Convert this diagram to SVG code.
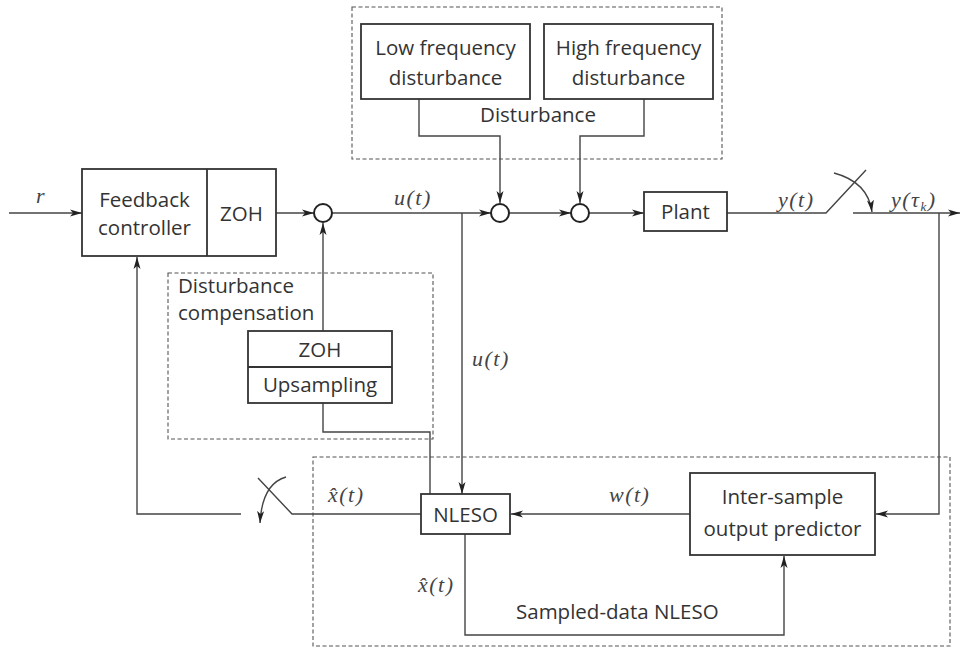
<svg xmlns="http://www.w3.org/2000/svg" width="961" height="648" viewBox="0 0 961 648">
<style>
.box{fill:#fff;stroke:#333;stroke-width:1.8}
.sum{fill:#fff;stroke:#222;stroke-width:2}
.dash{fill:none;stroke:#555;stroke-width:1.1;stroke-dasharray:4 2.5}
.ln{fill:none;stroke:#444;stroke-width:1.4}
.t{font-family:"Open Sans","Liberation Sans",sans-serif;font-size:20.5px;fill:#333}
.c{text-anchor:middle}
.m{font-family:"Liberation Serif","DejaVu Serif",serif;font-style:italic;font-size:22px;fill:#444;letter-spacing:1.5px}
</style>
<defs>
<marker id="ah" markerWidth="14" markerHeight="10" refX="12" refY="5" orient="auto" markerUnits="userSpaceOnUse">
<path d="M0,1.5 L12,5 L0,8.5 L3,5 Z" fill="#222"/>
</marker>
</defs>
<rect width="961" height="648" fill="#fff"/>

<g id="groups">
<rect class="dash" x="352" y="7" width="370" height="152"/>
<rect class="dash" x="168" y="273" width="265" height="166"/>
<rect class="dash" x="313" y="457" width="637" height="189"/>
</g>

<g id="connectors">
<line class="ln" x1="9" y1="213" x2="82" y2="213" marker-end="url(#ah)"/>
<line class="ln" x1="276" y1="213" x2="314" y2="213" marker-end="url(#ah)"/>
<line class="ln" x1="332" y1="213" x2="491" y2="213" marker-end="url(#ah)"/>
<line class="ln" x1="462" y1="213" x2="462" y2="494" marker-end="url(#ah)"/>
<line class="ln" x1="509" y1="213" x2="571" y2="213" marker-end="url(#ah)"/>
<line class="ln" x1="589" y1="213" x2="644" y2="213" marker-end="url(#ah)"/>
<polyline class="ln" points="727,213 826,213 866,170"/>
<path class="ln" d="M834,173 Q868,182 872,212" marker-end="url(#ah)"/>
<line class="ln" x1="853" y1="213" x2="960" y2="213" marker-end="url(#ah)"/>
<polyline class="ln" points="939,213 939,514 876,514" marker-end="url(#ah)"/>
<line class="ln" x1="690" y1="514" x2="511" y2="514" marker-end="url(#ah)"/>
<polyline class="ln" points="465,534 465,635 784,635 784,556" marker-end="url(#ah)"/>
<polyline class="ln" points="421,514 292,514 258,478"/>
<path class="ln" d="M286,477 Q262,484 260,523" marker-end="url(#ah)"/>
<polyline class="ln" points="241,514 137,514 137,257" marker-end="url(#ah)"/>
<polyline class="ln" points="323,403 323,432 430,432 430,494"/>
<line class="ln" x1="323" y1="331" x2="323" y2="223" marker-end="url(#ah)"/>
<polyline class="ln" points="419,99 419,136 500,136 500,203" marker-end="url(#ah)"/>
<polyline class="ln" points="644,99 644,136 580,136 580,203" marker-end="url(#ah)"/>
</g>

<g id="controller">
<rect class="box" x="82" y="169" width="194" height="87"/>
<line class="box" x1="207" y1="169" x2="207" y2="256"/>
<text class="t c" x="144.5" y="207">Feedback</text>
<text class="t c" x="144.5" y="235">controller</text>
<text class="t c" x="241.5" y="221">ZOH</text>
</g>

<g id="sum1"><circle class="sum" cx="323" cy="213" r="9"/></g>
<g id="sum2"><circle class="sum" cx="500" cy="213" r="9"/></g>
<g id="sum3"><circle class="sum" cx="580" cy="213" r="9"/></g>

<g id="disturbance">
<g id="lowfreq">
<rect class="box" x="361" y="24" width="169" height="75"/>
<text class="t c" x="445.5" y="55">Low frequency</text>
<text class="t c" x="445.5" y="85">disturbance</text>
</g>
<g id="highfreq">
<rect class="box" x="544" y="24" width="169" height="75"/>
<text class="t c" x="628.5" y="55">High frequency</text>
<text class="t c" x="628.5" y="85">disturbance</text>
</g>
<text class="t c" x="538" y="122">Disturbance</text>
</g>

<g id="plant">
<rect class="box" x="644" y="192" width="83" height="39"/>
<text class="t c" x="685.5" y="219">Plant</text>
</g>

<g id="compensation">
<text class="t" x="178" y="293" font-size="19.5">Disturbance</text>
<text class="t" x="178" y="320" font-size="19.5">compensation</text>
</g>

<g id="zohup">
<rect class="box" x="248" y="331" width="144" height="72"/>
<line class="box" x1="248" y1="367" x2="392" y2="367"/>
<text class="t c" x="320" y="357">ZOH</text>
<text class="t c" x="320" y="392">Upsampling</text>
</g>

<g id="nleso">
<rect class="box" x="421" y="494" width="89" height="40"/>
<text class="t c" x="465.5" y="522">NLESO</text>
</g>

<g id="predictor">
<rect class="box" x="690" y="473" width="185" height="82"/>
<text class="t c" x="782.5" y="504">Inter-sample</text>
<text class="t c" x="782.5" y="536">output predictor</text>
</g>
<text class="t" x="516" y="619">Sampled-data NLESO</text>

<g id="labels">
<text class="m" x="36" y="203">r</text>
<text class="m" x="394" y="205">u(t)</text>
<text class="m" x="472" y="366">u(t)</text>
<text class="m" x="778" y="207">y(t)</text>
<text class="m" x="891" y="207">y(τ<tspan font-size="13" dy="4">k</tspan><tspan dy="-4">)</tspan></text>
<text class="m" x="609" y="502">w(t)</text>
<text class="m" x="328" y="502">x̂(t)</text>
<text class="m" x="418" y="592">x̂(t)</text>
</g>
</svg>
